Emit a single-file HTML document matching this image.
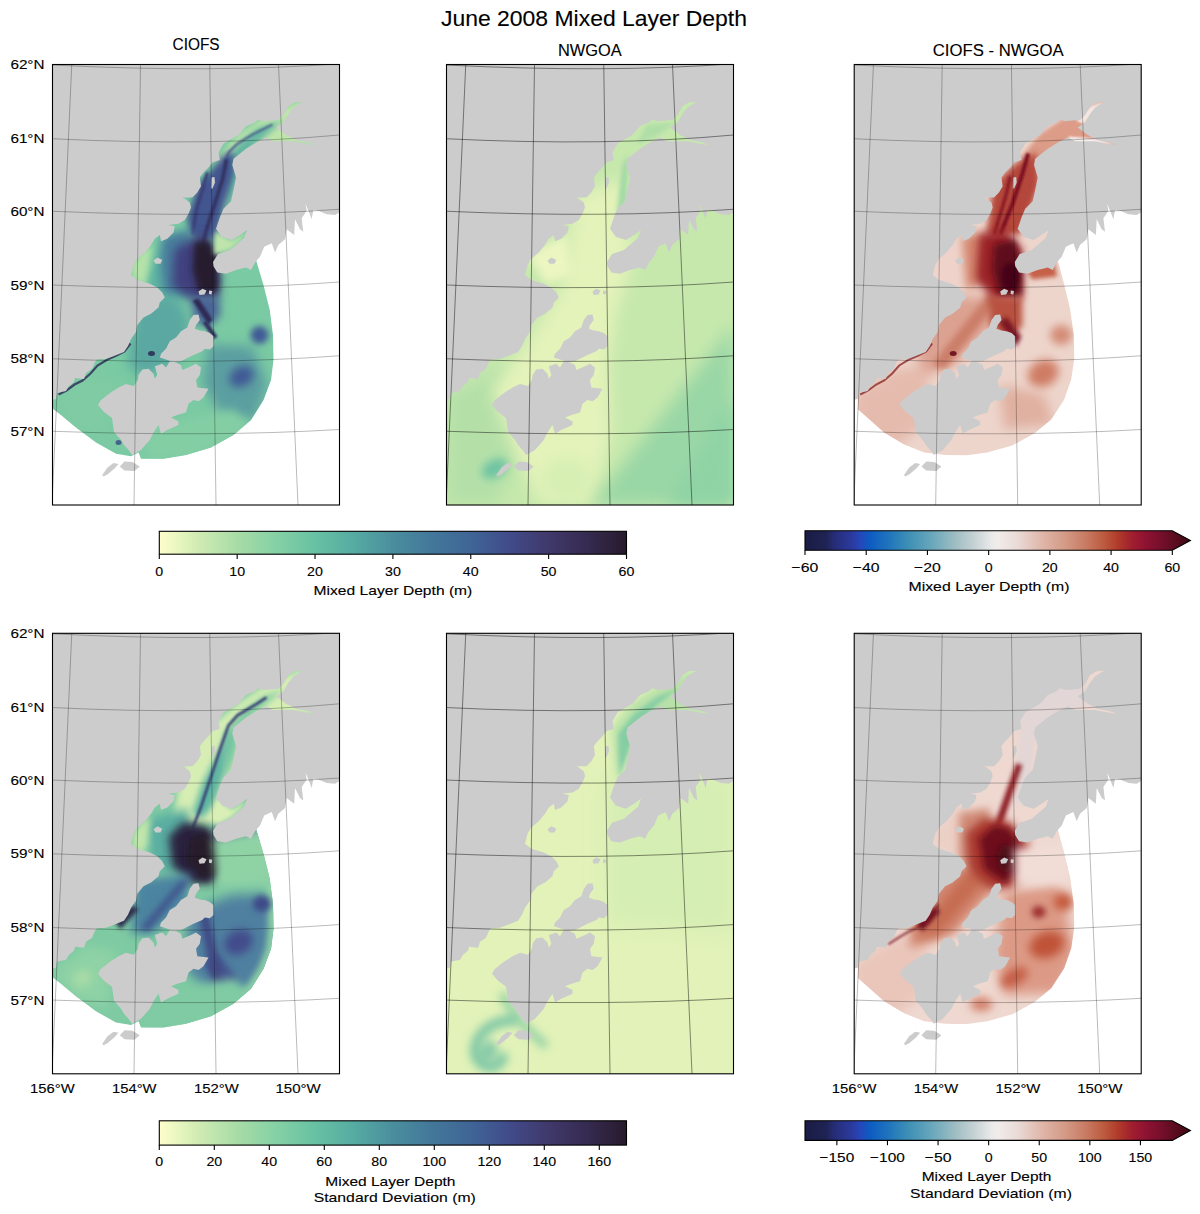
<!DOCTYPE html><html><head><meta charset="utf-8"><style>html,body{margin:0;padding:0;background:#fff;}svg{display:block;}</style></head><body><svg width="1200" height="1214" viewBox="0 0 1200 1214"><defs><clipPath id="clip"><rect x="0" y="0" width="287.0" height="440.5"/></clipPath><clipPath id="dom"><path d="M-1.00,-1.00 L288.00,-1.00 L288.00,100.00 L215.00,150.00 L203.50,195.50 L211.00,220.50 L217.25,245.50 L220.50,270.50 L221.00,295.50 L218.50,315.50 L211.00,335.50 L198.50,355.50 L181.00,370.50 L158.50,383.00 L133.50,390.50 L111.00,394.25 L88.50,394.25 L86.00,388.00 L78.50,391.75 L63.50,389.25 L43.50,378.00 L23.50,363.00 L8.50,350.50 L-1.00,343.00Z"/></clipPath><clipPath id="dom3"><path d="M-1.00,-1.00 L288.00,-1.00 L288.00,100.00 L215.00,150.00 L203.50,195.50 L210.00,220.00 L216.00,245.00 L219.50,270.00 L220.00,295.00 L217.00,315.00 L210.00,335.00 L197.00,355.00 L180.00,369.00 L158.00,381.00 L133.00,388.00 L111.00,391.00 L91.00,390.50 L70.00,388.00 L50.00,380.00 L30.00,368.00 L12.00,352.00 L4.00,345.00 L3.60,330.00 L-1.00,330.00Z"/></clipPath><filter id="b1" filterUnits="userSpaceOnUse" x="-60" y="-60" width="410" height="560"><feGaussianBlur stdDeviation="1"/></filter><filter id="b2" filterUnits="userSpaceOnUse" x="-60" y="-60" width="410" height="560"><feGaussianBlur stdDeviation="2"/></filter><filter id="b3" filterUnits="userSpaceOnUse" x="-60" y="-60" width="410" height="560"><feGaussianBlur stdDeviation="3"/></filter><filter id="b4" filterUnits="userSpaceOnUse" x="-60" y="-60" width="410" height="560"><feGaussianBlur stdDeviation="4"/></filter><filter id="b5" filterUnits="userSpaceOnUse" x="-60" y="-60" width="410" height="560"><feGaussianBlur stdDeviation="5"/></filter><filter id="b6" filterUnits="userSpaceOnUse" x="-60" y="-60" width="410" height="560"><feGaussianBlur stdDeviation="6"/></filter><filter id="b7" filterUnits="userSpaceOnUse" x="-60" y="-60" width="410" height="560"><feGaussianBlur stdDeviation="7"/></filter><filter id="b8" filterUnits="userSpaceOnUse" x="-60" y="-60" width="410" height="560"><feGaussianBlur stdDeviation="8"/></filter><filter id="b9" filterUnits="userSpaceOnUse" x="-60" y="-60" width="410" height="560"><feGaussianBlur stdDeviation="9"/></filter><filter id="b10" filterUnits="userSpaceOnUse" x="-60" y="-60" width="410" height="560"><feGaussianBlur stdDeviation="10"/></filter><filter id="b11" filterUnits="userSpaceOnUse" x="-60" y="-60" width="410" height="560"><feGaussianBlur stdDeviation="11"/></filter><filter id="b12" filterUnits="userSpaceOnUse" x="-60" y="-60" width="410" height="560"><feGaussianBlur stdDeviation="12"/></filter><filter id="b13" filterUnits="userSpaceOnUse" x="-60" y="-60" width="410" height="560"><feGaussianBlur stdDeviation="13"/></filter><filter id="b14" filterUnits="userSpaceOnUse" x="-60" y="-60" width="410" height="560"><feGaussianBlur stdDeviation="14"/></filter><filter id="b15" filterUnits="userSpaceOnUse" x="-60" y="-60" width="410" height="560"><feGaussianBlur stdDeviation="15"/></filter><linearGradient id="gdeep" x1="0" y1="0" x2="1" y2="0"><stop offset="0.0" stop-color="#fdfecc"/><stop offset="0.04" stop-color="#e9f6c0"/><stop offset="0.08" stop-color="#d2ecb4"/><stop offset="0.17" stop-color="#a6dba6"/><stop offset="0.25" stop-color="#85d1a5"/><stop offset="0.33" stop-color="#68c2a3"/><stop offset="0.42" stop-color="#55aaa2"/><stop offset="0.5" stop-color="#4a8e9e"/><stop offset="0.58" stop-color="#43789a"/><stop offset="0.67" stop-color="#3f6496"/><stop offset="0.75" stop-color="#414b8a"/><stop offset="0.83" stop-color="#40396c"/><stop offset="0.92" stop-color="#352a4f"/><stop offset="1.0" stop-color="#281a2c"/></linearGradient><linearGradient id="gbal" x1="0" y1="0" x2="1" y2="0"><stop offset="0.0" stop-color="#1a1c45"/><stop offset="0.054" stop-color="#1f2352"/><stop offset="0.077" stop-color="#262d78"/><stop offset="0.122" stop-color="#2b3a9e"/><stop offset="0.14" stop-color="#2844b8"/><stop offset="0.168" stop-color="#0c5cc2"/><stop offset="0.222" stop-color="#2277bb"/><stop offset="0.267" stop-color="#3d8fb5"/><stop offset="0.331" stop-color="#6aa8bc"/><stop offset="0.386" stop-color="#9bbcc2"/><stop offset="0.44" stop-color="#c7d2d5"/><stop offset="0.485" stop-color="#eaeaea"/><stop offset="0.5" stop-color="#f1ecea"/><stop offset="0.549" stop-color="#eadcd8"/><stop offset="0.617" stop-color="#dfb5a8"/><stop offset="0.675" stop-color="#d39a86"/><stop offset="0.73" stop-color="#c87a62"/><stop offset="0.776" stop-color="#bc5a3e"/><stop offset="0.812" stop-color="#b03b2a"/><stop offset="0.849" stop-color="#a01e2e"/><stop offset="0.885" stop-color="#8e1232"/><stop offset="0.935" stop-color="#6e0e28"/><stop offset="1.0" stop-color="#3c0912"/></linearGradient></defs><rect x="0" y="0" width="1200" height="1214" fill="#fff"/><g font-family="Liberation Sans, sans-serif" fill="#000" stroke="#000" stroke-width="0.12"><text x="441.00" y="26.20" font-size="22.5" textLength="306.00" lengthAdjust="spacingAndGlyphs">June 2008 Mixed Layer Depth</text><text x="172.50" y="50.00" font-size="17.4" textLength="47.10" lengthAdjust="spacingAndGlyphs">CIOFS</text><text x="557.90" y="55.80" font-size="17.4" textLength="63.80" lengthAdjust="spacingAndGlyphs">NWGOA</text><text x="932.70" y="55.60" font-size="17.4" textLength="131.00" lengthAdjust="spacingAndGlyphs">CIOFS - NWGOA</text><text x="10.40" y="69.20" font-size="13.6" textLength="34.10" lengthAdjust="spacingAndGlyphs">62°N</text><text x="10.40" y="143.20" font-size="13.6" textLength="34.10" lengthAdjust="spacingAndGlyphs">61°N</text><text x="10.40" y="216.20" font-size="13.6" textLength="34.10" lengthAdjust="spacingAndGlyphs">60°N</text><text x="10.40" y="289.60" font-size="13.6" textLength="34.10" lengthAdjust="spacingAndGlyphs">59°N</text><text x="10.40" y="362.90" font-size="13.6" textLength="34.10" lengthAdjust="spacingAndGlyphs">58°N</text><text x="10.40" y="436.00" font-size="13.6" textLength="34.10" lengthAdjust="spacingAndGlyphs">57°N</text><text x="10.40" y="638.00" font-size="13.6" textLength="34.10" lengthAdjust="spacingAndGlyphs">62°N</text><text x="10.40" y="712.00" font-size="13.6" textLength="34.10" lengthAdjust="spacingAndGlyphs">61°N</text><text x="10.40" y="785.00" font-size="13.6" textLength="34.10" lengthAdjust="spacingAndGlyphs">60°N</text><text x="10.40" y="858.40" font-size="13.6" textLength="34.10" lengthAdjust="spacingAndGlyphs">59°N</text><text x="10.40" y="931.70" font-size="13.6" textLength="34.10" lengthAdjust="spacingAndGlyphs">58°N</text><text x="10.40" y="1004.80" font-size="13.6" textLength="34.10" lengthAdjust="spacingAndGlyphs">57°N</text><text x="30.10" y="1093.30" font-size="13.6" textLength="44.60" lengthAdjust="spacingAndGlyphs">156°W</text><text x="112.00" y="1093.30" font-size="13.6" textLength="44.50" lengthAdjust="spacingAndGlyphs">154°W</text><text x="193.90" y="1093.30" font-size="13.6" textLength="44.80" lengthAdjust="spacingAndGlyphs">152°W</text><text x="275.50" y="1093.30" font-size="13.6" textLength="45.30" lengthAdjust="spacingAndGlyphs">150°W</text><text x="831.80" y="1093.30" font-size="13.6" textLength="44.60" lengthAdjust="spacingAndGlyphs">156°W</text><text x="913.70" y="1093.30" font-size="13.6" textLength="44.50" lengthAdjust="spacingAndGlyphs">154°W</text><text x="995.60" y="1093.30" font-size="13.6" textLength="44.80" lengthAdjust="spacingAndGlyphs">152°W</text><text x="1077.20" y="1093.30" font-size="13.6" textLength="45.30" lengthAdjust="spacingAndGlyphs">150°W</text></g><g transform="translate(52.5,64.5)"><g clip-path="url(#clip)"><rect x="0" y="0" width="287.0" height="440.5" fill="#fff"/><g clip-path="url(#dom)"><rect x="-10" y="-10" width="307.0" height="460.5" fill="#7acaa3"/><path d="M165.00,95.00 L185.00,70.00 L215.00,50.00 L250.00,35.00 L265.00,82.00 L230.00,80.00 L195.00,92.00 L180.00,120.00 L170.00,150.00Z" fill="#c0e5ab" fill-opacity="1.0" filter="url(#b3)"/><path d="M170.00,105.00 L185.00,80.00 L205.00,64.00 L232.00,55.00 L212.00,72.00 L192.00,92.00 L182.00,125.00 L174.00,150.00Z" fill="#62b5a2" fill-opacity="1.0" filter="url(#b3)"/><path d="M172,100 L176,88 L184,80 L200,70 L220,60" fill="none" stroke="#3e4a86" stroke-width="1.8" filter="url(#b1)"/><path d="M145.20,119.80 L156.10,108.90 L170.70,90.80 L181.60,87.10 L181.60,108.90 L170.70,145.20 L163.40,174.30 L138.00,174.30 L134.30,152.50Z" fill="#42558f" fill-opacity="1.0" filter="url(#b3)"/><path d="M174,95 L170,115 L162,140 L154,165 L150,180" fill="none" stroke="#33305f" stroke-width="3.5" filter="url(#b1)"/><path d="M155,108 L150,125 L144,145 L140,170" fill="none" stroke="#3a3d74" stroke-width="3" filter="url(#b1)"/><path d="M112.00,172.00 L138.00,168.00 L140.00,215.00 L130.00,235.00 L100.00,235.00 L95.00,215.00Z" fill="#5cb2a2" fill-opacity="1.0" filter="url(#b5)"/><path d="M78.00,200.00 L90.00,186.00 L100.00,180.00 L96.00,205.00 L92.00,222.00 L80.00,215.00Z" fill="#b5e2a9" fill-opacity="1.0" filter="url(#b3)"/><path d="M110.00,172.00 L138.00,165.00 L140.00,200.00 L138.00,232.00 L112.00,230.00 L108.00,200.00Z" fill="#4a7d9c" fill-opacity="1.0" filter="url(#b5)"/><path d="M122.00,185.00 L150.00,168.00 L165.00,185.00 L168.00,218.00 L166.00,234.00 L140.00,236.00 L120.00,222.00Z" fill="#3f3f7e" fill-opacity="1.0" filter="url(#b5)"/><path d="M142.00,178.00 L155.00,175.00 L164.00,190.00 L166.00,220.00 L162.00,230.00 L146.00,228.00 L140.00,205.00Z" fill="#281a2e" fill-opacity="1.0" filter="url(#b3)"/><path d="M138.00,232.00 L166.00,232.00 L168.00,250.00 L158.00,262.00 L142.00,258.00Z" fill="#4a6296" fill-opacity="1.0" filter="url(#b4)"/><path d="M140.00,236.00 L146.00,234.00 L160.00,255.00 L156.00,260.00Z" fill="#2f2a55" fill-opacity="1.0" filter="url(#b1)"/><path d="M150.00,258.00 L154.00,256.00 L165.00,272.00 L161.00,275.00Z" fill="#33305e" fill-opacity="1.0" filter="url(#b1)"/><path d="M163.00,166.00 L172.00,173.00 L180.00,176.00 L188.00,171.00 L194.00,166.00 L190.00,174.00 L178.00,185.00 L166.00,189.00 L161.00,190.00Z" fill="#bfe4ab" fill-opacity="1.0" filter="url(#b2)"/><path d="M87.00,232.00 L125.00,232.00 L138.00,260.00 L125.00,300.00 L90.00,312.00 L75.00,300.00 L80.00,265.00Z" fill="#5aa8a1" fill-opacity="1.0" filter="url(#b6)"/><path d="M156.00,280.00 L200.00,282.00 L215.00,320.00 L203.00,356.00 L170.00,352.00 L150.00,320.00Z" fill="#5c9fa1" fill-opacity="1.0" filter="url(#b6)"/><ellipse cx="207" cy="270.5" rx="9" ry="9" fill="#3f5a95" fill-opacity="1.0" transform="rotate(0 207 270.5)" filter="url(#b3)"/><ellipse cx="189" cy="312" rx="13" ry="10" fill="#3f5796" fill-opacity="0.95" transform="rotate(-30 189 312)" filter="url(#b4)"/><path d="M0.00,338.00 L35.00,312.00 L65.00,318.00 L55.00,372.00 L20.00,362.00Z" fill="#80cba3" fill-opacity="1.0" filter="url(#b6)"/><path d="M90.00,365.00 L180.00,345.00 L200.00,362.00 L150.00,390.00 L95.00,396.00Z" fill="#84cea4" fill-opacity="1.0" filter="url(#b5)"/><path d="M6,330 L14,326 L22,320 L30,316 L38,309 L45,301 L55,295 L64,291 L72,287 L78,279" fill="none" stroke="#303058" stroke-width="2.2" stroke-opacity="0.85"/><ellipse cx="99" cy="289" rx="3.5" ry="2.5" fill="#2e2f55" fill-opacity="0.9" transform="rotate(0 99 289)"/><ellipse cx="66" cy="378" rx="3" ry="2.5" fill="#3a4a85" fill-opacity="0.8" transform="rotate(0 66 378)"/></g><path d="M-1.00,-1.00 L288.00,-1.00 L288.00,147.20 L282.50,150.50 L274.20,149.70 L265.80,146.30 L260.80,145.50 L259.20,154.70 L256.00,146.50 L253.00,139.50 L254.20,146.30 L249.20,153.80 L250.80,167.20 L247.50,164.70 L242.50,154.70 L241.70,170.50 L234.20,164.70 L232.50,174.70 L225.80,180.50 L222.50,188.00 L219.20,178.80 L211.70,182.20 L207.50,192.20 L202.50,198.00 L198.50,205.50 L193.50,203.00 L183.50,205.50 L173.50,209.30 L164.80,208.00 L161.00,201.80 L160.50,197.50 L165.50,189.50 L177.50,185.50 L191.50,173.50 L194.50,165.50 L187.50,170.50 L179.50,175.50 L169.50,172.50 L163.50,164.30 L167.30,153.00 L171.00,144.30 L178.50,136.80 L181.00,125.50 L183.50,113.00 L179.80,100.50 L181.00,94.30 L193.50,84.30 L203.50,78.00 L213.50,73.00 L221.00,76.80 L241.00,76.80 L253.50,79.30 L262.30,80.50 L256.00,78.00 L243.50,75.50 L233.50,70.50 L223.50,63.00 L231.00,58.00 L236.00,49.30 L241.00,43.00 L249.80,37.40 L242.30,38.00 L236.00,41.80 L231.00,50.50 L226.00,55.50 L218.50,56.10 L211.00,56.80 L206.00,54.90 L202.30,58.00 L193.50,61.80 L186.00,70.50 L177.30,75.50 L171.00,79.30 L166.00,88.00 L167.30,95.50 L159.80,98.00 L156.00,103.00 L151.00,108.00 L147.30,113.00 L148.50,121.80 L144.80,128.00 L139.80,133.00 L129.80,133.00 L123.50,129.30 L132.30,134.30 L137.30,138.00 L138.50,143.00 L136.00,149.30 L132.30,155.50 L126.00,159.30 L116.00,160.50 L122.30,161.80 L121.00,168.00 L114.80,174.30 L108.50,176.80 L107.30,170.50 L102.30,174.30 L98.50,180.50 L92.30,188.00 L84.80,194.30 L81.00,200.50 L78.50,210.50 L84.80,215.50 L97.30,219.30 L104.80,223.00 L109.80,228.00 L112.30,233.00 L107.30,238.00 L106.00,243.00 L98.50,249.30 L91.00,253.00 L84.80,260.50 L83.50,267.50 L78.50,274.50 L75.50,281.50 L71.50,287.50 L61.50,291.50 L53.50,294.50 L44.50,295.00 L42.50,297.50 L39.50,304.50 L33.50,308.50 L31.50,314.50 L22.50,313.50 L21.50,317.50 L16.50,321.50 L13.50,326.50 L4.50,328.50 L3.50,334.50 L-1.00,335.50 L-1.00,335.50Z" fill="#cccccc"/><path d="M146.00,249.90 L147.30,255.50 L143.50,260.50 L142.30,264.30 L147.30,266.10 L152.30,266.80 L157.30,268.60 L161.00,271.80 L161.00,281.80 L157.30,284.90 L152.30,284.30 L149.80,286.80 L141.00,290.50 L133.50,294.30 L128.50,296.80 L121.00,297.40 L113.50,294.90 L107.30,293.00 L108.50,289.30 L113.50,284.30 L117.30,276.80 L123.50,273.00 L128.50,266.80 L134.80,263.00 L137.30,255.50 L141.00,250.50Z" fill="#cccccc"/><path d="M86.00,310.50 L89.80,304.90 L96.00,304.30 L101.00,309.30 L102.30,314.30 L104.80,310.50 L102.30,301.80 L109.80,299.30 L113.50,303.00 L117.30,296.80 L123.50,298.00 L128.50,300.50 L129.80,305.50 L138.50,301.80 L143.50,299.30 L148.50,303.00 L147.30,310.50 L143.50,315.50 L144.80,323.00 L156.00,324.30 L151.00,333.00 L146.00,336.80 L141.00,335.50 L136.00,339.30 L133.50,348.00 L124.80,350.50 L118.50,353.00 L126.00,356.80 L126.00,360.50 L114.80,365.50 L108.50,369.30 L106.00,360.50 L101.00,368.00 L97.30,375.50 L88.50,385.50 L79.75,390.50 L76.00,385.50 L71.50,380.50 L68.50,375.50 L61.50,367.50 L59.50,353.50 L51.50,347.50 L45.50,340.50 L48.00,336.00 L57.50,328.50 L66.00,323.00 L73.50,319.50 L81.50,321.50 L85.50,315.00Z" fill="#cccccc"/><path d="M49.75,410.50 L55.00,403.00 L61.00,398.50 L66.00,399.50 L62.00,404.00 L55.00,410.00 L51.00,412.00Z" fill="#cccccc"/><path d="M67.25,402.00 L72.00,397.00 L80.00,397.50 L87.25,402.00 L82.00,406.50 L72.00,406.00Z" fill="#cccccc"/><path d="M159.00,113.00 L162.00,112.50 L162.50,118.00 L160.00,124.00 L158.50,124.00Z" fill="#cccccc"/><path d="M101.00,196.00 L105.00,193.00 L109.80,195.50 L108.00,199.30 L103.00,199.30Z" fill="#cccccc"/><path d="M146.00,227.00 L150.00,224.30 L154.00,226.00 L152.00,230.00 L147.00,230.50Z" fill="#cccccc"/><path d="M156.50,226.00 L159.80,226.50 L159.00,230.00 L156.50,229.50Z" fill="#cccccc"/><g stroke="#000" stroke-opacity="0.3" stroke-width="0.9" fill="none"><line x1="19.25" y1="0" x2="-0.5" y2="440.5"/><line x1="88" y1="0" x2="81.5" y2="440.5"/><line x1="157.25" y1="0" x2="163.5" y2="440.5"/><line x1="226" y1="0" x2="245.5" y2="440.5"/><path d="M0,0.5 Q160,8.62 287.0,-0.75" fill="none"/><path d="M0,74.25 Q160,82.12 287.0,70.5" fill="none"/><path d="M0,146.75 Q160,153.75 287.0,144.75" fill="none"/><path d="M0,220.5 Q160,227.00 287.0,217.5" fill="none"/><path d="M0,294.25 Q160,300.75 287.0,291.25" fill="none"/><path d="M0,366.75 Q160,372.62 287.0,365" fill="none"/></g></g><rect x="0" y="0" width="287.0" height="440.5" fill="none" stroke="#000" stroke-width="1.1"/></g><g transform="translate(446.5,64.5)"><g clip-path="url(#clip)"><rect x="-10" y="-10" width="307.0" height="460.5" fill="#c6e8ad"/><path d="M0.00,330.00 L60.00,300.00 L80.00,380.00 L50.00,440.00 L0.00,440.00Z" fill="#b4e0a8" fill-opacity="1.0" filter="url(#b8)"/><path d="M130.00,130.00 L178.00,115.00 L185.00,200.00 L170.00,245.00 L162.00,300.00 L165.00,370.00 L145.00,440.00 L95.00,440.00 L65.00,380.00 L45.00,325.00 L80.00,280.00 L115.00,225.00Z" fill="#e4f3ba" fill-opacity="1.0" filter="url(#b8)"/><ellipse cx="120" cy="415" rx="25" ry="22" fill="#d3edb2" fill-opacity="0.8" transform="rotate(0 120 415)" filter="url(#b8)"/><path d="M145.00,440.00 L287.00,260.00 L287.00,440.00Z" fill="#9ad7a6" fill-opacity="1.0" filter="url(#b8)"/><path d="M220.00,440.00 L287.00,330.00 L287.00,440.00Z" fill="#8fd3a5" fill-opacity="1.0" filter="url(#b8)"/><ellipse cx="48" cy="404" rx="14" ry="9" fill="#6fc4a3" fill-opacity="1" transform="rotate(-30 48 404)" filter="url(#b4)"/><path d="M176.00,100.00 L182.00,90.00 L180.00,140.00 L170.00,150.00Z" fill="#a3d9a6" fill-opacity="1.0" filter="url(#b2)"/><path d="M200.00,60.00 L230.00,58.00 L210.00,72.00 L190.00,80.00Z" fill="#b0dea7" fill-opacity="1.0" filter="url(#b2)"/><path d="M80.00,190.00 L120.00,170.00 L125.00,210.00 L100.00,220.00Z" fill="#ecf6c1" fill-opacity="1.0" filter="url(#b4)"/><path d="M-1.00,-1.00 L288.00,-1.00 L288.00,147.20 L282.50,150.50 L274.20,149.70 L265.80,146.30 L260.80,145.50 L259.20,154.70 L256.00,146.50 L253.00,139.50 L254.20,146.30 L249.20,153.80 L250.80,167.20 L247.50,164.70 L242.50,154.70 L241.70,170.50 L234.20,164.70 L232.50,174.70 L225.80,180.50 L222.50,188.00 L219.20,178.80 L211.70,182.20 L207.50,192.20 L202.50,198.00 L198.50,205.50 L193.50,203.00 L183.50,205.50 L173.50,209.30 L164.80,208.00 L161.00,201.80 L160.50,197.50 L165.50,189.50 L177.50,185.50 L191.50,173.50 L194.50,165.50 L187.50,170.50 L179.50,175.50 L169.50,172.50 L163.50,164.30 L167.30,153.00 L171.00,144.30 L178.50,136.80 L181.00,125.50 L183.50,113.00 L179.80,100.50 L181.00,94.30 L193.50,84.30 L203.50,78.00 L213.50,73.00 L221.00,76.80 L241.00,76.80 L253.50,79.30 L262.30,80.50 L256.00,78.00 L243.50,75.50 L233.50,70.50 L223.50,63.00 L231.00,58.00 L236.00,49.30 L241.00,43.00 L249.80,37.40 L242.30,38.00 L236.00,41.80 L231.00,50.50 L226.00,55.50 L218.50,56.10 L211.00,56.80 L206.00,54.90 L202.30,58.00 L193.50,61.80 L186.00,70.50 L177.30,75.50 L171.00,79.30 L166.00,88.00 L167.30,95.50 L159.80,98.00 L156.00,103.00 L151.00,108.00 L147.30,113.00 L148.50,121.80 L144.80,128.00 L139.80,133.00 L129.80,133.00 L123.50,129.30 L132.30,134.30 L137.30,138.00 L138.50,143.00 L136.00,149.30 L132.30,155.50 L126.00,159.30 L116.00,160.50 L122.30,161.80 L121.00,168.00 L114.80,174.30 L108.50,176.80 L107.30,170.50 L102.30,174.30 L98.50,180.50 L92.30,188.00 L84.80,194.30 L81.00,200.50 L78.50,210.50 L84.80,215.50 L97.30,219.30 L104.80,223.00 L109.80,228.00 L112.30,233.00 L107.30,238.00 L106.00,243.00 L98.50,249.30 L91.00,253.00 L84.80,260.50 L83.50,267.50 L78.50,274.50 L75.50,281.50 L71.50,287.50 L61.50,291.50 L53.50,294.50 L44.50,295.00 L42.50,297.50 L39.50,304.50 L33.50,308.50 L31.50,314.50 L22.50,313.50 L21.50,317.50 L16.50,321.50 L13.50,326.50 L4.50,328.50 L3.50,334.50 L-1.00,335.50 L-1.00,335.50Z" fill="#cccccc"/><path d="M146.00,249.90 L147.30,255.50 L143.50,260.50 L142.30,264.30 L147.30,266.10 L152.30,266.80 L157.30,268.60 L161.00,271.80 L161.00,281.80 L157.30,284.90 L152.30,284.30 L149.80,286.80 L141.00,290.50 L133.50,294.30 L128.50,296.80 L121.00,297.40 L113.50,294.90 L107.30,293.00 L108.50,289.30 L113.50,284.30 L117.30,276.80 L123.50,273.00 L128.50,266.80 L134.80,263.00 L137.30,255.50 L141.00,250.50Z" fill="#cccccc"/><path d="M86.00,310.50 L89.80,304.90 L96.00,304.30 L101.00,309.30 L102.30,314.30 L104.80,310.50 L102.30,301.80 L109.80,299.30 L113.50,303.00 L117.30,296.80 L123.50,298.00 L128.50,300.50 L129.80,305.50 L138.50,301.80 L143.50,299.30 L148.50,303.00 L147.30,310.50 L143.50,315.50 L144.80,323.00 L156.00,324.30 L151.00,333.00 L146.00,336.80 L141.00,335.50 L136.00,339.30 L133.50,348.00 L124.80,350.50 L118.50,353.00 L126.00,356.80 L126.00,360.50 L114.80,365.50 L108.50,369.30 L106.00,360.50 L101.00,368.00 L97.30,375.50 L88.50,385.50 L79.75,390.50 L76.00,385.50 L71.50,380.50 L68.50,375.50 L61.50,367.50 L59.50,353.50 L51.50,347.50 L45.50,340.50 L48.00,336.00 L57.50,328.50 L66.00,323.00 L73.50,319.50 L81.50,321.50 L85.50,315.00Z" fill="#cccccc"/><path d="M49.75,410.50 L55.00,403.00 L61.00,398.50 L66.00,399.50 L62.00,404.00 L55.00,410.00 L51.00,412.00Z" fill="#cccccc"/><path d="M67.25,402.00 L72.00,397.00 L80.00,397.50 L87.25,402.00 L82.00,406.50 L72.00,406.00Z" fill="#cccccc"/><path d="M159.00,113.00 L162.00,112.50 L162.50,118.00 L160.00,124.00 L158.50,124.00Z" fill="#cccccc"/><path d="M101.00,196.00 L105.00,193.00 L109.80,195.50 L108.00,199.30 L103.00,199.30Z" fill="#cccccc"/><path d="M146.00,227.00 L150.00,224.30 L154.00,226.00 L152.00,230.00 L147.00,230.50Z" fill="#cccccc"/><path d="M156.50,226.00 L159.80,226.50 L159.00,230.00 L156.50,229.50Z" fill="#cccccc"/><g stroke="#000" stroke-opacity="0.5" stroke-width="0.9" fill="none"><line x1="19.25" y1="0" x2="-0.5" y2="440.5"/><line x1="88" y1="0" x2="81.5" y2="440.5"/><line x1="157.25" y1="0" x2="163.5" y2="440.5"/><line x1="226" y1="0" x2="245.5" y2="440.5"/><path d="M0,0.5 Q160,8.62 287.0,-0.75" fill="none"/><path d="M0,74.25 Q160,82.12 287.0,70.5" fill="none"/><path d="M0,146.75 Q160,153.75 287.0,144.75" fill="none"/><path d="M0,220.5 Q160,227.00 287.0,217.5" fill="none"/><path d="M0,294.25 Q160,300.75 287.0,291.25" fill="none"/><path d="M0,366.75 Q160,372.62 287.0,365" fill="none"/></g></g><rect x="0" y="0" width="287.0" height="440.5" fill="none" stroke="#000" stroke-width="1.1"/></g><g transform="translate(854.2,64.5)"><g clip-path="url(#clip)"><rect x="0" y="0" width="287.0" height="440.5" fill="#fff"/><g clip-path="url(#dom3)"><rect x="-10" y="-10" width="307.0" height="460.5" fill="#edd5cc"/><path d="M0.00,330.00 L40.00,305.00 L75.00,300.00 L70.00,360.00 L40.00,385.00 L0.00,370.00Z" fill="#e5bbad" fill-opacity="1.0" filter="url(#b6)"/><path d="M73.00,232.00 L138.00,232.00 L140.00,260.00 L100.00,301.00 L70.00,310.00 L60.00,285.00Z" fill="#dca291" fill-opacity="1.0" filter="url(#b6)"/><path d="M135.00,228.00 L145.00,236.00 L90.00,305.00 L78.00,300.00Z" fill="#cb7d67" fill-opacity="1.0" filter="url(#b3)"/><path d="M165.00,95.00 L185.00,70.00 L215.00,50.00 L250.00,35.00 L265.00,82.00 L230.00,80.00 L195.00,92.00 L180.00,120.00 L170.00,150.00Z" fill="#dc9c88" fill-opacity="1.0" filter="url(#b2)"/><path d="M222.00,56.00 L236.00,42.00 L250.00,37.00 L238.00,50.00 L230.00,60.00Z" fill="#f4e6e2" fill-opacity="1.0" filter="url(#b1)"/><path d="M214.00,72.00 L240.00,74.00 L262.00,80.00 L240.00,80.00 L216.00,78.00Z" fill="#f7eeee" fill-opacity="1.0" filter="url(#b1)"/><path d="M139.00,120.00 L160.00,100.00 L182.00,88.00 L185.00,120.00 L175.00,150.00 L166.00,170.00 L132.00,172.00Z" fill="#b4473a" fill-opacity="1.0" filter="url(#b3)"/><path d="M174,89 L168,110 L158,140 L146,170" fill="none" stroke="#7a1020" stroke-width="4" filter="url(#b1)"/><path d="M156,112 L152,130 L146,150 L140,170" fill="none" stroke="#8a1a26" stroke-width="3.5" filter="url(#b1)"/><path d="M80.00,180.00 L105.00,172.00 L108.00,225.00 L85.00,225.00Z" fill="#efd3ca" fill-opacity="1.0" filter="url(#b4)"/><path d="M108.00,172.00 L132.00,168.00 L138.00,215.00 L112.00,225.00Z" fill="#d4876f" fill-opacity="1.0" filter="url(#b4)"/><path d="M125.00,170.00 L150.00,165.00 L168.00,185.00 L168.00,232.00 L140.00,236.00 L122.00,215.00Z" fill="#9a2228" fill-opacity="1.0" filter="url(#b4)"/><path d="M140.00,180.00 L160.00,175.00 L168.00,200.00 L167.00,232.00 L145.00,232.00 L138.00,205.00Z" fill="#5e0a1a" fill-opacity="1.0" filter="url(#b3)"/><ellipse cx="156" cy="212" rx="9" ry="14" fill="#430716" fill-opacity="0.9" transform="rotate(0 156 212)" filter="url(#b2)"/><path d="M135.00,232.00 L168.00,232.00 L168.00,262.00 L150.00,276.00 L135.00,260.00Z" fill="#b85140" fill-opacity="1.0" filter="url(#b3)"/><path d="M145.00,258.00 L152.00,252.00 L167.00,272.00 L162.00,282.00Z" fill="#7a1522" fill-opacity="1.0" filter="url(#b2)"/><path d="M170.00,203.00 L200.00,198.00 L203.00,212.00 L178.00,215.00Z" fill="#c6614a" fill-opacity="1.0" filter="url(#b2)"/><ellipse cx="207" cy="270.5" rx="11" ry="10" fill="#d48c76" fill-opacity="1.0" transform="rotate(0 207 270.5)" filter="url(#b4)"/><ellipse cx="189" cy="309" rx="16" ry="13" fill="#cf7b63" fill-opacity="1" transform="rotate(-30 189 309)" filter="url(#b5)"/><path d="M145.00,320.00 L190.00,330.00 L200.00,360.00 L150.00,365.00Z" fill="#e0b0a0" fill-opacity="1.0" filter="url(#b6)"/><path d="M6,330 L14,326 L22,320 L30,316 L38,309 L45,301 L55,295 L64,291 L72,287 L78,279" fill="none" stroke="#8a2a2a" stroke-width="2" stroke-opacity="0.8"/><ellipse cx="99" cy="289" rx="3.5" ry="2.5" fill="#6a0e1e" fill-opacity="0.9" transform="rotate(0 99 289)"/></g><path d="M-1.00,-1.00 L288.00,-1.00 L288.00,147.20 L282.50,150.50 L274.20,149.70 L265.80,146.30 L260.80,145.50 L259.20,154.70 L256.00,146.50 L253.00,139.50 L254.20,146.30 L249.20,153.80 L250.80,167.20 L247.50,164.70 L242.50,154.70 L241.70,170.50 L234.20,164.70 L232.50,174.70 L225.80,180.50 L222.50,188.00 L219.20,178.80 L211.70,182.20 L207.50,192.20 L202.50,198.00 L198.50,205.50 L193.50,203.00 L183.50,205.50 L173.50,209.30 L164.80,208.00 L161.00,201.80 L160.50,197.50 L165.50,189.50 L177.50,185.50 L191.50,173.50 L194.50,165.50 L187.50,170.50 L179.50,175.50 L169.50,172.50 L163.50,164.30 L167.30,153.00 L171.00,144.30 L178.50,136.80 L181.00,125.50 L183.50,113.00 L179.80,100.50 L181.00,94.30 L193.50,84.30 L203.50,78.00 L213.50,73.00 L221.00,76.80 L241.00,76.80 L253.50,79.30 L262.30,80.50 L256.00,78.00 L243.50,75.50 L233.50,70.50 L223.50,63.00 L231.00,58.00 L236.00,49.30 L241.00,43.00 L249.80,37.40 L242.30,38.00 L236.00,41.80 L231.00,50.50 L226.00,55.50 L218.50,56.10 L211.00,56.80 L206.00,54.90 L202.30,58.00 L193.50,61.80 L186.00,70.50 L177.30,75.50 L171.00,79.30 L166.00,88.00 L167.30,95.50 L159.80,98.00 L156.00,103.00 L151.00,108.00 L147.30,113.00 L148.50,121.80 L144.80,128.00 L139.80,133.00 L129.80,133.00 L123.50,129.30 L132.30,134.30 L137.30,138.00 L138.50,143.00 L136.00,149.30 L132.30,155.50 L126.00,159.30 L116.00,160.50 L122.30,161.80 L121.00,168.00 L114.80,174.30 L108.50,176.80 L107.30,170.50 L102.30,174.30 L98.50,180.50 L92.30,188.00 L84.80,194.30 L81.00,200.50 L78.50,210.50 L84.80,215.50 L97.30,219.30 L104.80,223.00 L109.80,228.00 L112.30,233.00 L107.30,238.00 L106.00,243.00 L98.50,249.30 L91.00,253.00 L84.80,260.50 L83.50,267.50 L78.50,274.50 L75.50,281.50 L71.50,287.50 L61.50,291.50 L53.50,294.50 L44.50,295.00 L42.50,297.50 L39.50,304.50 L33.50,308.50 L31.50,314.50 L22.50,313.50 L21.50,317.50 L16.50,321.50 L13.50,326.50 L4.50,328.50 L3.50,334.50 L-1.00,335.50 L-1.00,335.50Z" fill="#cccccc"/><path d="M146.00,249.90 L147.30,255.50 L143.50,260.50 L142.30,264.30 L147.30,266.10 L152.30,266.80 L157.30,268.60 L161.00,271.80 L161.00,281.80 L157.30,284.90 L152.30,284.30 L149.80,286.80 L141.00,290.50 L133.50,294.30 L128.50,296.80 L121.00,297.40 L113.50,294.90 L107.30,293.00 L108.50,289.30 L113.50,284.30 L117.30,276.80 L123.50,273.00 L128.50,266.80 L134.80,263.00 L137.30,255.50 L141.00,250.50Z" fill="#cccccc"/><path d="M86.00,310.50 L89.80,304.90 L96.00,304.30 L101.00,309.30 L102.30,314.30 L104.80,310.50 L102.30,301.80 L109.80,299.30 L113.50,303.00 L117.30,296.80 L123.50,298.00 L128.50,300.50 L129.80,305.50 L138.50,301.80 L143.50,299.30 L148.50,303.00 L147.30,310.50 L143.50,315.50 L144.80,323.00 L156.00,324.30 L151.00,333.00 L146.00,336.80 L141.00,335.50 L136.00,339.30 L133.50,348.00 L124.80,350.50 L118.50,353.00 L126.00,356.80 L126.00,360.50 L114.80,365.50 L108.50,369.30 L106.00,360.50 L101.00,368.00 L97.30,375.50 L88.50,385.50 L79.75,390.50 L76.00,385.50 L71.50,380.50 L68.50,375.50 L61.50,367.50 L59.50,353.50 L51.50,347.50 L45.50,340.50 L48.00,336.00 L57.50,328.50 L66.00,323.00 L73.50,319.50 L81.50,321.50 L85.50,315.00Z" fill="#cccccc"/><path d="M49.75,410.50 L55.00,403.00 L61.00,398.50 L66.00,399.50 L62.00,404.00 L55.00,410.00 L51.00,412.00Z" fill="#cccccc"/><path d="M67.25,402.00 L72.00,397.00 L80.00,397.50 L87.25,402.00 L82.00,406.50 L72.00,406.00Z" fill="#cccccc"/><path d="M159.00,113.00 L162.00,112.50 L162.50,118.00 L160.00,124.00 L158.50,124.00Z" fill="#cccccc"/><path d="M101.00,196.00 L105.00,193.00 L109.80,195.50 L108.00,199.30 L103.00,199.30Z" fill="#cccccc"/><path d="M146.00,227.00 L150.00,224.30 L154.00,226.00 L152.00,230.00 L147.00,230.50Z" fill="#cccccc"/><path d="M156.50,226.00 L159.80,226.50 L159.00,230.00 L156.50,229.50Z" fill="#cccccc"/><g stroke="#000" stroke-opacity="0.3" stroke-width="0.9" fill="none"><line x1="19.25" y1="0" x2="-0.5" y2="440.5"/><line x1="88" y1="0" x2="81.5" y2="440.5"/><line x1="157.25" y1="0" x2="163.5" y2="440.5"/><line x1="226" y1="0" x2="245.5" y2="440.5"/><path d="M0,0.5 Q160,8.62 287.0,-0.75" fill="none"/><path d="M0,74.25 Q160,82.12 287.0,70.5" fill="none"/><path d="M0,146.75 Q160,153.75 287.0,144.75" fill="none"/><path d="M0,220.5 Q160,227.00 287.0,217.5" fill="none"/><path d="M0,294.25 Q160,300.75 287.0,291.25" fill="none"/><path d="M0,366.75 Q160,372.62 287.0,365" fill="none"/></g></g><rect x="0" y="0" width="287.0" height="440.5" fill="none" stroke="#000" stroke-width="1.1"/></g><g transform="translate(52.5,633.3)"><g clip-path="url(#clip)"><rect x="0" y="0" width="287.0" height="440.5" fill="#fff"/><g clip-path="url(#dom)"><rect x="-10" y="-10" width="307.0" height="460.5" fill="#7ecaa3"/><path d="M130.00,130.00 L150.00,100.00 L185.00,70.00 L215.00,50.00 L250.00,35.00 L265.00,82.00 L230.00,80.00 L195.00,92.00 L185.00,120.00 L178.00,160.00 L170.00,190.00 L120.00,190.00Z" fill="#d6eeb4" fill-opacity="1.0" filter="url(#b3)"/><path d="M172.00,100.00 L188.00,80.00 L210.00,64.00 L232.00,55.00 L212.00,72.00 L192.00,92.00 L182.00,125.00 L172.00,150.00Z" fill="#7ecaa3" fill-opacity="1.0" filter="url(#b3)"/><path d="M150.00,150.00 L165.00,120.00 L178.00,95.00 L172.00,140.00 L162.00,170.00 L150.00,185.00 L140.00,180.00Z" fill="#5fb5a2" fill-opacity="1.0" filter="url(#b3)"/><path d="M214,64 L205,70 L185,82 L176,92 L168,115 L158,145 L148,175 L140,195" fill="none" stroke="#363b72" stroke-width="2.6" filter="url(#b1)"/><path d="M163.00,166.00 L172.00,173.00 L180.00,176.00 L188.00,171.00 L194.00,166.00 L190.00,174.00 L178.00,185.00 L166.00,189.00 L161.00,190.00Z" fill="#d9efb5" fill-opacity="1.0" filter="url(#b2)"/><path d="M160.00,195.00 L205.00,196.00 L205.00,212.00 L165.00,215.00Z" fill="#40508a" fill-opacity="1.0" filter="url(#b3)"/><path d="M95.00,186.00 L135.00,175.00 L140.00,215.00 L125.00,240.00 L100.00,235.00Z" fill="#5aaea2" fill-opacity="1.0" filter="url(#b5)"/><path d="M80.00,200.00 L90.00,188.00 L98.00,182.00 L95.00,210.00 L90.00,222.00 L80.00,215.00Z" fill="#c2e6ab" fill-opacity="1.0" filter="url(#b3)"/><path d="M116.20,203.30 L130.70,188.80 L152.50,192.40 L170.70,210.60 L170.70,236.00 L159.80,250.50 L138.00,250.50 L119.80,232.40Z" fill="#2c2040" fill-opacity="1.0" filter="url(#b4)"/><path d="M135.00,205.00 L152.00,198.00 L166.00,215.00 L166.00,240.00 L150.00,246.00 L134.00,230.00Z" fill="#261a2c" fill-opacity="1.0" filter="url(#b3)"/><path d="M83.00,247.00 L138.00,240.00 L135.00,270.00 L100.00,301.00 L78.00,300.00Z" fill="#4b84a0" fill-opacity="1.0" filter="url(#b5)"/><path d="M128.00,248.00 L138.00,246.00 L95.00,298.00 L88.00,295.00Z" fill="#41538c" fill-opacity="1.0" filter="url(#b3)"/><path d="M62.00,288.00 L80.00,272.00 L86.00,276.00 L68.00,296.00Z" fill="#2c2a4c" fill-opacity="1.0" filter="url(#b2)"/><path d="M160.00,205.00 L215.00,195.00 L218.00,250.00 L165.00,255.00Z" fill="#8fd3a5" fill-opacity="1.0" filter="url(#b5)"/><path d="M135.00,279.50 L180.00,261.50 L220.70,261.50 L220.70,324.70 L198.00,358.50 L157.50,358.50 L135.00,338.20Z" fill="#5080a0" fill-opacity="1.0" filter="url(#b6)"/><path d="M211,220.5 L217.25,245.5 L220.5,270.5 L221,295.5 L218.5,315.5 L211,335.5 L198.5,355.5 L181,370.5 L158.5,383" fill="none" stroke="#8ed2a5" stroke-width="9" filter="url(#b3)"/><ellipse cx="209.4" cy="270.5" rx="9" ry="8" fill="#3e4a88" fill-opacity="1.0" transform="rotate(0 209.4 270.5)" filter="url(#b3)"/><ellipse cx="186" cy="309" rx="15" ry="12" fill="#404a8a" fill-opacity="0.95" transform="rotate(-30 186 309)" filter="url(#b4)"/><path d="M150.00,330.00 L165.00,320.00 L185.00,345.00 L170.00,355.00Z" fill="#45558f" fill-opacity="1.0" filter="url(#b3)"/><path d="M146.00,279.00 L155.00,276.00 L171.00,347.00 L160.00,350.00Z" fill="#3f4a85" fill-opacity="1.0" filter="url(#b3)"/><path d="M0.00,338.00 L35.00,312.00 L65.00,318.00 L55.00,375.00 L20.00,365.00Z" fill="#8ed2a5" fill-opacity="1.0" filter="url(#b6)"/><ellipse cx="30" cy="345" rx="10" ry="8" fill="#b0dea8" fill-opacity="0.8" transform="rotate(-30 30 345)" filter="url(#b5)"/><path d="M90.00,365.00 L180.00,345.00 L200.00,362.00 L150.00,390.00 L95.00,396.00Z" fill="#80cba3" fill-opacity="1.0" filter="url(#b5)"/></g><path d="M-1.00,-1.00 L288.00,-1.00 L288.00,147.20 L282.50,150.50 L274.20,149.70 L265.80,146.30 L260.80,145.50 L259.20,154.70 L256.00,146.50 L253.00,139.50 L254.20,146.30 L249.20,153.80 L250.80,167.20 L247.50,164.70 L242.50,154.70 L241.70,170.50 L234.20,164.70 L232.50,174.70 L225.80,180.50 L222.50,188.00 L219.20,178.80 L211.70,182.20 L207.50,192.20 L202.50,198.00 L198.50,205.50 L193.50,203.00 L183.50,205.50 L173.50,209.30 L164.80,208.00 L161.00,201.80 L160.50,197.50 L165.50,189.50 L177.50,185.50 L191.50,173.50 L194.50,165.50 L187.50,170.50 L179.50,175.50 L169.50,172.50 L163.50,164.30 L167.30,153.00 L171.00,144.30 L178.50,136.80 L181.00,125.50 L183.50,113.00 L179.80,100.50 L181.00,94.30 L193.50,84.30 L203.50,78.00 L213.50,73.00 L221.00,76.80 L241.00,76.80 L253.50,79.30 L262.30,80.50 L256.00,78.00 L243.50,75.50 L233.50,70.50 L223.50,63.00 L231.00,58.00 L236.00,49.30 L241.00,43.00 L249.80,37.40 L242.30,38.00 L236.00,41.80 L231.00,50.50 L226.00,55.50 L218.50,56.10 L211.00,56.80 L206.00,54.90 L202.30,58.00 L193.50,61.80 L186.00,70.50 L177.30,75.50 L171.00,79.30 L166.00,88.00 L167.30,95.50 L159.80,98.00 L156.00,103.00 L151.00,108.00 L147.30,113.00 L148.50,121.80 L144.80,128.00 L139.80,133.00 L129.80,133.00 L123.50,129.30 L132.30,134.30 L137.30,138.00 L138.50,143.00 L136.00,149.30 L132.30,155.50 L126.00,159.30 L116.00,160.50 L122.30,161.80 L121.00,168.00 L114.80,174.30 L108.50,176.80 L107.30,170.50 L102.30,174.30 L98.50,180.50 L92.30,188.00 L84.80,194.30 L81.00,200.50 L78.50,210.50 L84.80,215.50 L97.30,219.30 L104.80,223.00 L109.80,228.00 L112.30,233.00 L107.30,238.00 L106.00,243.00 L98.50,249.30 L91.00,253.00 L84.80,260.50 L83.50,267.50 L78.50,274.50 L75.50,281.50 L71.50,287.50 L61.50,291.50 L53.50,294.50 L44.50,295.00 L42.50,297.50 L39.50,304.50 L33.50,308.50 L31.50,314.50 L22.50,313.50 L21.50,317.50 L16.50,321.50 L13.50,326.50 L4.50,328.50 L3.50,334.50 L-1.00,335.50 L-1.00,335.50Z" fill="#cccccc"/><path d="M146.00,249.90 L147.30,255.50 L143.50,260.50 L142.30,264.30 L147.30,266.10 L152.30,266.80 L157.30,268.60 L161.00,271.80 L161.00,281.80 L157.30,284.90 L152.30,284.30 L149.80,286.80 L141.00,290.50 L133.50,294.30 L128.50,296.80 L121.00,297.40 L113.50,294.90 L107.30,293.00 L108.50,289.30 L113.50,284.30 L117.30,276.80 L123.50,273.00 L128.50,266.80 L134.80,263.00 L137.30,255.50 L141.00,250.50Z" fill="#cccccc"/><path d="M86.00,310.50 L89.80,304.90 L96.00,304.30 L101.00,309.30 L102.30,314.30 L104.80,310.50 L102.30,301.80 L109.80,299.30 L113.50,303.00 L117.30,296.80 L123.50,298.00 L128.50,300.50 L129.80,305.50 L138.50,301.80 L143.50,299.30 L148.50,303.00 L147.30,310.50 L143.50,315.50 L144.80,323.00 L156.00,324.30 L151.00,333.00 L146.00,336.80 L141.00,335.50 L136.00,339.30 L133.50,348.00 L124.80,350.50 L118.50,353.00 L126.00,356.80 L126.00,360.50 L114.80,365.50 L108.50,369.30 L106.00,360.50 L101.00,368.00 L97.30,375.50 L88.50,385.50 L79.75,390.50 L76.00,385.50 L71.50,380.50 L68.50,375.50 L61.50,367.50 L59.50,353.50 L51.50,347.50 L45.50,340.50 L48.00,336.00 L57.50,328.50 L66.00,323.00 L73.50,319.50 L81.50,321.50 L85.50,315.00Z" fill="#cccccc"/><path d="M49.75,410.50 L55.00,403.00 L61.00,398.50 L66.00,399.50 L62.00,404.00 L55.00,410.00 L51.00,412.00Z" fill="#cccccc"/><path d="M67.25,402.00 L72.00,397.00 L80.00,397.50 L87.25,402.00 L82.00,406.50 L72.00,406.00Z" fill="#cccccc"/><path d="M159.00,113.00 L162.00,112.50 L162.50,118.00 L160.00,124.00 L158.50,124.00Z" fill="#cccccc"/><path d="M101.00,196.00 L105.00,193.00 L109.80,195.50 L108.00,199.30 L103.00,199.30Z" fill="#cccccc"/><path d="M146.00,227.00 L150.00,224.30 L154.00,226.00 L152.00,230.00 L147.00,230.50Z" fill="#cccccc"/><path d="M156.50,226.00 L159.80,226.50 L159.00,230.00 L156.50,229.50Z" fill="#cccccc"/><g stroke="#000" stroke-opacity="0.3" stroke-width="0.9" fill="none"><line x1="19.25" y1="0" x2="-0.5" y2="440.5"/><line x1="88" y1="0" x2="81.5" y2="440.5"/><line x1="157.25" y1="0" x2="163.5" y2="440.5"/><line x1="226" y1="0" x2="245.5" y2="440.5"/><path d="M0,0.5 Q160,8.62 287.0,-0.75" fill="none"/><path d="M0,74.25 Q160,82.12 287.0,70.5" fill="none"/><path d="M0,146.75 Q160,153.75 287.0,144.75" fill="none"/><path d="M0,220.5 Q160,227.00 287.0,217.5" fill="none"/><path d="M0,294.25 Q160,300.75 287.0,291.25" fill="none"/><path d="M0,366.75 Q160,372.62 287.0,365" fill="none"/></g></g><rect x="0" y="0" width="287.0" height="440.5" fill="none" stroke="#000" stroke-width="1.1"/></g><g transform="translate(446.5,633.3)"><g clip-path="url(#clip)"><rect x="-10" y="-10" width="307.0" height="460.5" fill="#e2f2b8"/><path d="M165.00,95.00 L185.00,70.00 L215.00,50.00 L250.00,35.00 L265.00,82.00 L230.00,80.00 L195.00,92.00 L180.00,120.00 L170.00,150.00Z" fill="#b8e1a9" fill-opacity="1.0" filter="url(#b4)"/><path d="M172.00,100.00 L188.00,80.00 L210.00,64.00 L232.00,55.00 L210.00,72.00 L192.00,90.00 L180.00,125.00 L172.00,150.00Z" fill="#86cda4" fill-opacity="1.0" filter="url(#b2)"/><path d="M160.00,145.00 L287.00,140.00 L287.00,300.00 L160.00,290.00Z" fill="#d5eeb3" fill-opacity="1.0" filter="url(#b10)"/><path d="M55,360 Q66,378 72,386 T100,413" fill="none" stroke="#88cda4" stroke-width="9" stroke-opacity="0.8" filter="url(#b4)"/><path d="M70,387 C55,386 40,392 32,405 C26,418 28,428 40,433 C50,435 58,428 55,420" fill="none" stroke="#6cbfa3" stroke-width="11" stroke-opacity="0.8" filter="url(#b4)"/><ellipse cx="42" cy="418" rx="9" ry="11" fill="#64baa2" fill-opacity="0.7" transform="rotate(20 42 418)" filter="url(#b4)"/><path d="M-1.00,-1.00 L288.00,-1.00 L288.00,147.20 L282.50,150.50 L274.20,149.70 L265.80,146.30 L260.80,145.50 L259.20,154.70 L256.00,146.50 L253.00,139.50 L254.20,146.30 L249.20,153.80 L250.80,167.20 L247.50,164.70 L242.50,154.70 L241.70,170.50 L234.20,164.70 L232.50,174.70 L225.80,180.50 L222.50,188.00 L219.20,178.80 L211.70,182.20 L207.50,192.20 L202.50,198.00 L198.50,205.50 L193.50,203.00 L183.50,205.50 L173.50,209.30 L164.80,208.00 L161.00,201.80 L160.50,197.50 L165.50,189.50 L177.50,185.50 L191.50,173.50 L194.50,165.50 L187.50,170.50 L179.50,175.50 L169.50,172.50 L163.50,164.30 L167.30,153.00 L171.00,144.30 L178.50,136.80 L181.00,125.50 L183.50,113.00 L179.80,100.50 L181.00,94.30 L193.50,84.30 L203.50,78.00 L213.50,73.00 L221.00,76.80 L241.00,76.80 L253.50,79.30 L262.30,80.50 L256.00,78.00 L243.50,75.50 L233.50,70.50 L223.50,63.00 L231.00,58.00 L236.00,49.30 L241.00,43.00 L249.80,37.40 L242.30,38.00 L236.00,41.80 L231.00,50.50 L226.00,55.50 L218.50,56.10 L211.00,56.80 L206.00,54.90 L202.30,58.00 L193.50,61.80 L186.00,70.50 L177.30,75.50 L171.00,79.30 L166.00,88.00 L167.30,95.50 L159.80,98.00 L156.00,103.00 L151.00,108.00 L147.30,113.00 L148.50,121.80 L144.80,128.00 L139.80,133.00 L129.80,133.00 L123.50,129.30 L132.30,134.30 L137.30,138.00 L138.50,143.00 L136.00,149.30 L132.30,155.50 L126.00,159.30 L116.00,160.50 L122.30,161.80 L121.00,168.00 L114.80,174.30 L108.50,176.80 L107.30,170.50 L102.30,174.30 L98.50,180.50 L92.30,188.00 L84.80,194.30 L81.00,200.50 L78.50,210.50 L84.80,215.50 L97.30,219.30 L104.80,223.00 L109.80,228.00 L112.30,233.00 L107.30,238.00 L106.00,243.00 L98.50,249.30 L91.00,253.00 L84.80,260.50 L83.50,267.50 L78.50,274.50 L75.50,281.50 L71.50,287.50 L61.50,291.50 L53.50,294.50 L44.50,295.00 L42.50,297.50 L39.50,304.50 L33.50,308.50 L31.50,314.50 L22.50,313.50 L21.50,317.50 L16.50,321.50 L13.50,326.50 L4.50,328.50 L3.50,334.50 L-1.00,335.50 L-1.00,335.50Z" fill="#cccccc"/><path d="M146.00,249.90 L147.30,255.50 L143.50,260.50 L142.30,264.30 L147.30,266.10 L152.30,266.80 L157.30,268.60 L161.00,271.80 L161.00,281.80 L157.30,284.90 L152.30,284.30 L149.80,286.80 L141.00,290.50 L133.50,294.30 L128.50,296.80 L121.00,297.40 L113.50,294.90 L107.30,293.00 L108.50,289.30 L113.50,284.30 L117.30,276.80 L123.50,273.00 L128.50,266.80 L134.80,263.00 L137.30,255.50 L141.00,250.50Z" fill="#cccccc"/><path d="M86.00,310.50 L89.80,304.90 L96.00,304.30 L101.00,309.30 L102.30,314.30 L104.80,310.50 L102.30,301.80 L109.80,299.30 L113.50,303.00 L117.30,296.80 L123.50,298.00 L128.50,300.50 L129.80,305.50 L138.50,301.80 L143.50,299.30 L148.50,303.00 L147.30,310.50 L143.50,315.50 L144.80,323.00 L156.00,324.30 L151.00,333.00 L146.00,336.80 L141.00,335.50 L136.00,339.30 L133.50,348.00 L124.80,350.50 L118.50,353.00 L126.00,356.80 L126.00,360.50 L114.80,365.50 L108.50,369.30 L106.00,360.50 L101.00,368.00 L97.30,375.50 L88.50,385.50 L79.75,390.50 L76.00,385.50 L71.50,380.50 L68.50,375.50 L61.50,367.50 L59.50,353.50 L51.50,347.50 L45.50,340.50 L48.00,336.00 L57.50,328.50 L66.00,323.00 L73.50,319.50 L81.50,321.50 L85.50,315.00Z" fill="#cccccc"/><path d="M49.75,410.50 L55.00,403.00 L61.00,398.50 L66.00,399.50 L62.00,404.00 L55.00,410.00 L51.00,412.00Z" fill="#cccccc"/><path d="M67.25,402.00 L72.00,397.00 L80.00,397.50 L87.25,402.00 L82.00,406.50 L72.00,406.00Z" fill="#cccccc"/><path d="M159.00,113.00 L162.00,112.50 L162.50,118.00 L160.00,124.00 L158.50,124.00Z" fill="#cccccc"/><path d="M101.00,196.00 L105.00,193.00 L109.80,195.50 L108.00,199.30 L103.00,199.30Z" fill="#cccccc"/><path d="M146.00,227.00 L150.00,224.30 L154.00,226.00 L152.00,230.00 L147.00,230.50Z" fill="#cccccc"/><path d="M156.50,226.00 L159.80,226.50 L159.00,230.00 L156.50,229.50Z" fill="#cccccc"/><g stroke="#000" stroke-opacity="0.5" stroke-width="0.9" fill="none"><line x1="19.25" y1="0" x2="-0.5" y2="440.5"/><line x1="88" y1="0" x2="81.5" y2="440.5"/><line x1="157.25" y1="0" x2="163.5" y2="440.5"/><line x1="226" y1="0" x2="245.5" y2="440.5"/><path d="M0,0.5 Q160,8.62 287.0,-0.75" fill="none"/><path d="M0,74.25 Q160,82.12 287.0,70.5" fill="none"/><path d="M0,146.75 Q160,153.75 287.0,144.75" fill="none"/><path d="M0,220.5 Q160,227.00 287.0,217.5" fill="none"/><path d="M0,294.25 Q160,300.75 287.0,291.25" fill="none"/><path d="M0,366.75 Q160,372.62 287.0,365" fill="none"/></g></g><rect x="0" y="0" width="287.0" height="440.5" fill="none" stroke="#000" stroke-width="1.1"/></g><g transform="translate(854.2,633.3)"><g clip-path="url(#clip)"><rect x="0" y="0" width="287.0" height="440.5" fill="#fff"/><g clip-path="url(#dom3)"><rect x="-10" y="-10" width="307.0" height="460.5" fill="#eed8d0"/><path d="M0.00,330.00 L40.00,305.00 L75.00,300.00 L70.00,360.00 L40.00,385.00 L0.00,370.00Z" fill="#eac6ba" fill-opacity="1.0" filter="url(#b6)"/><path d="M170.00,58.00 L232.00,50.00 L240.00,70.00 L200.00,85.00 L180.00,110.00 L175.00,170.00 L160.00,170.00 L165.00,100.00Z" fill="#e2d6d6" fill-opacity="1.0" filter="url(#b3)"/><path d="M62.00,247.00 L125.00,232.00 L140.00,255.00 L100.00,301.00 L55.00,315.00Z" fill="#d48a74" fill-opacity="1.0" filter="url(#b5)"/><path d="M118.00,230.00 L138.00,240.00 L84.00,302.00 L60.00,304.00Z" fill="#c56a50" fill-opacity="1.0" filter="url(#b6)"/><path d="M62.00,290.00 L80.00,274.00 L86.00,278.00 L68.00,298.00Z" fill="#6d1020" fill-opacity="1.0" filter="url(#b2)"/><path d="M78.00,200.00 L95.00,182.00 L115.00,172.00 L112.00,200.00 L108.00,222.00 L95.00,222.00 L80.00,215.00Z" fill="#ecd0c6" fill-opacity="1.0" filter="url(#b4)"/><path d="M105.00,180.00 L135.00,175.00 L138.00,215.00 L120.00,240.00 L105.00,225.00Z" fill="#cf8a76" fill-opacity="1.0" filter="url(#b4)"/><path d="M162.00,130.00 L168.00,132.00 L145.00,200.00 L138.00,198.00Z" fill="#8b1a24" fill-opacity="1.0" filter="url(#b2)"/><path d="M112.00,200.00 L130.00,185.00 L155.00,188.00 L175.00,210.00 L175.00,240.00 L160.00,256.00 L135.00,256.00 L115.00,236.00Z" fill="#a9372d" fill-opacity="1.0" filter="url(#b4)"/><path d="M125.00,205.00 L140.00,192.00 L155.00,195.00 L168.00,215.00 L168.00,240.00 L150.00,250.00 L130.00,236.00Z" fill="#6e0e1e" fill-opacity="1.0" filter="url(#b3)"/><ellipse cx="152" cy="225" rx="9" ry="14" fill="#4a0a18" fill-opacity="0.9" transform="rotate(0 152 225)" filter="url(#b3)"/><path d="M150.00,258.00 L205.00,250.00 L222.00,320.00 L205.00,360.00 L150.00,362.00 L140.00,320.00Z" fill="#dc9a86" fill-opacity="1.0" filter="url(#b6)"/><path d="M160.00,215.00 L218.00,210.00 L218.00,250.00 L160.00,254.00Z" fill="#f1ddd6" fill-opacity="1.0" filter="url(#b5)"/><ellipse cx="209" cy="268.5" rx="10" ry="9" fill="#c45a3c" fill-opacity="1.0" transform="rotate(0 209 268.5)" filter="url(#b4)"/><ellipse cx="184.5" cy="278.7" rx="7" ry="6" fill="#9a2a2c" fill-opacity="1.0" transform="rotate(0 184.5 278.7)" filter="url(#b3)"/><ellipse cx="192.7" cy="311.5" rx="18" ry="13" fill="#bf5238" fill-opacity="1" transform="rotate(-20 192.7 311.5)" filter="url(#b5)"/><ellipse cx="160" cy="344" rx="15" ry="8" fill="#c65e46" fill-opacity="1" transform="rotate(-30 160 344)" filter="url(#b4)"/><ellipse cx="127" cy="371" rx="11" ry="7" fill="#d3806a" fill-opacity="1.0" transform="rotate(0 127 371)" filter="url(#b4)"/><path d="M34,311 L45,304 L55,298 L66,293 L74,288 L80,279 L84,271" fill="none" stroke="#7a1a22" stroke-width="2.5" stroke-opacity="0.7" filter="url(#b1)"/></g><path d="M-1.00,-1.00 L288.00,-1.00 L288.00,147.20 L282.50,150.50 L274.20,149.70 L265.80,146.30 L260.80,145.50 L259.20,154.70 L256.00,146.50 L253.00,139.50 L254.20,146.30 L249.20,153.80 L250.80,167.20 L247.50,164.70 L242.50,154.70 L241.70,170.50 L234.20,164.70 L232.50,174.70 L225.80,180.50 L222.50,188.00 L219.20,178.80 L211.70,182.20 L207.50,192.20 L202.50,198.00 L198.50,205.50 L193.50,203.00 L183.50,205.50 L173.50,209.30 L164.80,208.00 L161.00,201.80 L160.50,197.50 L165.50,189.50 L177.50,185.50 L191.50,173.50 L194.50,165.50 L187.50,170.50 L179.50,175.50 L169.50,172.50 L163.50,164.30 L167.30,153.00 L171.00,144.30 L178.50,136.80 L181.00,125.50 L183.50,113.00 L179.80,100.50 L181.00,94.30 L193.50,84.30 L203.50,78.00 L213.50,73.00 L221.00,76.80 L241.00,76.80 L253.50,79.30 L262.30,80.50 L256.00,78.00 L243.50,75.50 L233.50,70.50 L223.50,63.00 L231.00,58.00 L236.00,49.30 L241.00,43.00 L249.80,37.40 L242.30,38.00 L236.00,41.80 L231.00,50.50 L226.00,55.50 L218.50,56.10 L211.00,56.80 L206.00,54.90 L202.30,58.00 L193.50,61.80 L186.00,70.50 L177.30,75.50 L171.00,79.30 L166.00,88.00 L167.30,95.50 L159.80,98.00 L156.00,103.00 L151.00,108.00 L147.30,113.00 L148.50,121.80 L144.80,128.00 L139.80,133.00 L129.80,133.00 L123.50,129.30 L132.30,134.30 L137.30,138.00 L138.50,143.00 L136.00,149.30 L132.30,155.50 L126.00,159.30 L116.00,160.50 L122.30,161.80 L121.00,168.00 L114.80,174.30 L108.50,176.80 L107.30,170.50 L102.30,174.30 L98.50,180.50 L92.30,188.00 L84.80,194.30 L81.00,200.50 L78.50,210.50 L84.80,215.50 L97.30,219.30 L104.80,223.00 L109.80,228.00 L112.30,233.00 L107.30,238.00 L106.00,243.00 L98.50,249.30 L91.00,253.00 L84.80,260.50 L83.50,267.50 L78.50,274.50 L75.50,281.50 L71.50,287.50 L61.50,291.50 L53.50,294.50 L44.50,295.00 L42.50,297.50 L39.50,304.50 L33.50,308.50 L31.50,314.50 L22.50,313.50 L21.50,317.50 L16.50,321.50 L13.50,326.50 L4.50,328.50 L3.50,334.50 L-1.00,335.50 L-1.00,335.50Z" fill="#cccccc"/><path d="M146.00,249.90 L147.30,255.50 L143.50,260.50 L142.30,264.30 L147.30,266.10 L152.30,266.80 L157.30,268.60 L161.00,271.80 L161.00,281.80 L157.30,284.90 L152.30,284.30 L149.80,286.80 L141.00,290.50 L133.50,294.30 L128.50,296.80 L121.00,297.40 L113.50,294.90 L107.30,293.00 L108.50,289.30 L113.50,284.30 L117.30,276.80 L123.50,273.00 L128.50,266.80 L134.80,263.00 L137.30,255.50 L141.00,250.50Z" fill="#cccccc"/><path d="M86.00,310.50 L89.80,304.90 L96.00,304.30 L101.00,309.30 L102.30,314.30 L104.80,310.50 L102.30,301.80 L109.80,299.30 L113.50,303.00 L117.30,296.80 L123.50,298.00 L128.50,300.50 L129.80,305.50 L138.50,301.80 L143.50,299.30 L148.50,303.00 L147.30,310.50 L143.50,315.50 L144.80,323.00 L156.00,324.30 L151.00,333.00 L146.00,336.80 L141.00,335.50 L136.00,339.30 L133.50,348.00 L124.80,350.50 L118.50,353.00 L126.00,356.80 L126.00,360.50 L114.80,365.50 L108.50,369.30 L106.00,360.50 L101.00,368.00 L97.30,375.50 L88.50,385.50 L79.75,390.50 L76.00,385.50 L71.50,380.50 L68.50,375.50 L61.50,367.50 L59.50,353.50 L51.50,347.50 L45.50,340.50 L48.00,336.00 L57.50,328.50 L66.00,323.00 L73.50,319.50 L81.50,321.50 L85.50,315.00Z" fill="#cccccc"/><path d="M49.75,410.50 L55.00,403.00 L61.00,398.50 L66.00,399.50 L62.00,404.00 L55.00,410.00 L51.00,412.00Z" fill="#cccccc"/><path d="M67.25,402.00 L72.00,397.00 L80.00,397.50 L87.25,402.00 L82.00,406.50 L72.00,406.00Z" fill="#cccccc"/><path d="M159.00,113.00 L162.00,112.50 L162.50,118.00 L160.00,124.00 L158.50,124.00Z" fill="#cccccc"/><path d="M101.00,196.00 L105.00,193.00 L109.80,195.50 L108.00,199.30 L103.00,199.30Z" fill="#cccccc"/><path d="M146.00,227.00 L150.00,224.30 L154.00,226.00 L152.00,230.00 L147.00,230.50Z" fill="#cccccc"/><path d="M156.50,226.00 L159.80,226.50 L159.00,230.00 L156.50,229.50Z" fill="#cccccc"/><g stroke="#000" stroke-opacity="0.3" stroke-width="0.9" fill="none"><line x1="19.25" y1="0" x2="-0.5" y2="440.5"/><line x1="88" y1="0" x2="81.5" y2="440.5"/><line x1="157.25" y1="0" x2="163.5" y2="440.5"/><line x1="226" y1="0" x2="245.5" y2="440.5"/><path d="M0,0.5 Q160,8.62 287.0,-0.75" fill="none"/><path d="M0,74.25 Q160,82.12 287.0,70.5" fill="none"/><path d="M0,146.75 Q160,153.75 287.0,144.75" fill="none"/><path d="M0,220.5 Q160,227.00 287.0,217.5" fill="none"/><path d="M0,294.25 Q160,300.75 287.0,291.25" fill="none"/><path d="M0,366.75 Q160,372.62 287.0,365" fill="none"/></g></g><rect x="0" y="0" width="287.0" height="440.5" fill="none" stroke="#000" stroke-width="1.1"/></g><rect x="159.3" y="531.3" width="467.20" height="22.90" fill="url(#gdeep)" stroke="#000" stroke-width="1.1"/><line x1="159.30" y1="554.2" x2="159.30" y2="559.00" stroke="#000" stroke-width="1.1"/><line x1="237.17" y1="554.2" x2="237.17" y2="559.00" stroke="#000" stroke-width="1.1"/><line x1="315.03" y1="554.2" x2="315.03" y2="559.00" stroke="#000" stroke-width="1.1"/><line x1="392.90" y1="554.2" x2="392.90" y2="559.00" stroke="#000" stroke-width="1.1"/><line x1="470.77" y1="554.2" x2="470.77" y2="559.00" stroke="#000" stroke-width="1.1"/><line x1="548.63" y1="554.2" x2="548.63" y2="559.00" stroke="#000" stroke-width="1.1"/><line x1="626.50" y1="554.2" x2="626.50" y2="559.00" stroke="#000" stroke-width="1.1"/><g font-family="Liberation Sans, sans-serif" fill="#000" stroke="#000" stroke-width="0.12"><text x="155.35" y="575.60" font-size="13.6" textLength="7.90" lengthAdjust="spacingAndGlyphs">0</text><text x="229.27" y="575.60" font-size="13.6" textLength="15.80" lengthAdjust="spacingAndGlyphs">10</text><text x="307.13" y="575.60" font-size="13.6" textLength="15.80" lengthAdjust="spacingAndGlyphs">20</text><text x="385.00" y="575.60" font-size="13.6" textLength="15.80" lengthAdjust="spacingAndGlyphs">30</text><text x="462.87" y="575.60" font-size="13.6" textLength="15.80" lengthAdjust="spacingAndGlyphs">40</text><text x="540.73" y="575.60" font-size="13.6" textLength="15.80" lengthAdjust="spacingAndGlyphs">50</text><text x="618.60" y="575.60" font-size="13.6" textLength="15.80" lengthAdjust="spacingAndGlyphs">60</text><text x="313.60" y="594.80" font-size="13.6" textLength="158.70" lengthAdjust="spacingAndGlyphs">Mixed Layer Depth (m)</text></g><path d="M805.0,530.7 L1172.3,530.7 L1190.4,540.45 L1172.3,550.2 L805.0,550.2 Z" fill="url(#gbal)" stroke="#000" stroke-width="1.1"/><line x1="805.00" y1="550.2" x2="805.00" y2="555.00" stroke="#000" stroke-width="1.1"/><line x1="866.22" y1="550.2" x2="866.22" y2="555.00" stroke="#000" stroke-width="1.1"/><line x1="927.43" y1="550.2" x2="927.43" y2="555.00" stroke="#000" stroke-width="1.1"/><line x1="988.65" y1="550.2" x2="988.65" y2="555.00" stroke="#000" stroke-width="1.1"/><line x1="1049.87" y1="550.2" x2="1049.87" y2="555.00" stroke="#000" stroke-width="1.1"/><line x1="1111.08" y1="550.2" x2="1111.08" y2="555.00" stroke="#000" stroke-width="1.1"/><line x1="1172.30" y1="550.2" x2="1172.30" y2="555.00" stroke="#000" stroke-width="1.1"/><g font-family="Liberation Sans, sans-serif" fill="#000" stroke="#000" stroke-width="0.12"><text x="791.60" y="571.80" font-size="13.6" textLength="26.80" lengthAdjust="spacingAndGlyphs">−60</text><text x="852.82" y="571.80" font-size="13.6" textLength="26.80" lengthAdjust="spacingAndGlyphs">−40</text><text x="914.03" y="571.80" font-size="13.6" textLength="26.80" lengthAdjust="spacingAndGlyphs">−20</text><text x="984.70" y="571.80" font-size="13.6" textLength="7.90" lengthAdjust="spacingAndGlyphs">0</text><text x="1041.97" y="571.80" font-size="13.6" textLength="15.80" lengthAdjust="spacingAndGlyphs">20</text><text x="1103.18" y="571.80" font-size="13.6" textLength="15.80" lengthAdjust="spacingAndGlyphs">40</text><text x="1164.40" y="571.80" font-size="13.6" textLength="15.80" lengthAdjust="spacingAndGlyphs">60</text><text x="908.50" y="590.80" font-size="13.6" textLength="161.00" lengthAdjust="spacingAndGlyphs">Mixed Layer Depth (m)</text></g><rect x="159.3" y="1120.8" width="467.20" height="24.30" fill="url(#gdeep)" stroke="#000" stroke-width="1.1"/><line x1="159.30" y1="1145.1" x2="159.30" y2="1149.90" stroke="#000" stroke-width="1.1"/><line x1="214.30" y1="1145.1" x2="214.30" y2="1149.90" stroke="#000" stroke-width="1.1"/><line x1="269.29" y1="1145.1" x2="269.29" y2="1149.90" stroke="#000" stroke-width="1.1"/><line x1="324.29" y1="1145.1" x2="324.29" y2="1149.90" stroke="#000" stroke-width="1.1"/><line x1="379.29" y1="1145.1" x2="379.29" y2="1149.90" stroke="#000" stroke-width="1.1"/><line x1="434.29" y1="1145.1" x2="434.29" y2="1149.90" stroke="#000" stroke-width="1.1"/><line x1="489.28" y1="1145.1" x2="489.28" y2="1149.90" stroke="#000" stroke-width="1.1"/><line x1="544.28" y1="1145.1" x2="544.28" y2="1149.90" stroke="#000" stroke-width="1.1"/><line x1="599.28" y1="1145.1" x2="599.28" y2="1149.90" stroke="#000" stroke-width="1.1"/><g font-family="Liberation Sans, sans-serif" fill="#000" stroke="#000" stroke-width="0.12"><text x="155.35" y="1165.80" font-size="13.6" textLength="7.90" lengthAdjust="spacingAndGlyphs">0</text><text x="206.40" y="1165.80" font-size="13.6" textLength="15.80" lengthAdjust="spacingAndGlyphs">20</text><text x="261.39" y="1165.80" font-size="13.6" textLength="15.80" lengthAdjust="spacingAndGlyphs">40</text><text x="316.39" y="1165.80" font-size="13.6" textLength="15.80" lengthAdjust="spacingAndGlyphs">60</text><text x="371.39" y="1165.80" font-size="13.6" textLength="15.80" lengthAdjust="spacingAndGlyphs">80</text><text x="422.44" y="1165.80" font-size="13.6" textLength="23.70" lengthAdjust="spacingAndGlyphs">100</text><text x="477.43" y="1165.80" font-size="13.6" textLength="23.70" lengthAdjust="spacingAndGlyphs">120</text><text x="532.43" y="1165.80" font-size="13.6" textLength="23.70" lengthAdjust="spacingAndGlyphs">140</text><text x="587.43" y="1165.80" font-size="13.6" textLength="23.70" lengthAdjust="spacingAndGlyphs">160</text><text x="325.30" y="1185.50" font-size="13.6" textLength="130.20" lengthAdjust="spacingAndGlyphs">Mixed Layer Depth</text><text x="313.70" y="1201.70" font-size="13.6" textLength="162.10" lengthAdjust="spacingAndGlyphs">Standard Deviation (m)</text></g><path d="M805.0,1120.8 L1172.3,1120.8 L1190.4,1130.60 L1172.3,1140.4 L805.0,1140.4 Z" fill="url(#gbal)" stroke="#000" stroke-width="1.1"/><line x1="836.87" y1="1140.4" x2="836.87" y2="1145.20" stroke="#000" stroke-width="1.1"/><line x1="887.47" y1="1140.4" x2="887.47" y2="1145.20" stroke="#000" stroke-width="1.1"/><line x1="938.06" y1="1140.4" x2="938.06" y2="1145.20" stroke="#000" stroke-width="1.1"/><line x1="988.65" y1="1140.4" x2="988.65" y2="1145.20" stroke="#000" stroke-width="1.1"/><line x1="1039.24" y1="1140.4" x2="1039.24" y2="1145.20" stroke="#000" stroke-width="1.1"/><line x1="1089.83" y1="1140.4" x2="1089.83" y2="1145.20" stroke="#000" stroke-width="1.1"/><line x1="1140.43" y1="1140.4" x2="1140.43" y2="1145.20" stroke="#000" stroke-width="1.1"/><g font-family="Liberation Sans, sans-serif" fill="#000" stroke="#000" stroke-width="0.12"><text x="819.52" y="1161.70" font-size="13.6" textLength="34.70" lengthAdjust="spacingAndGlyphs">−150</text><text x="870.12" y="1161.70" font-size="13.6" textLength="34.70" lengthAdjust="spacingAndGlyphs">−100</text><text x="924.66" y="1161.70" font-size="13.6" textLength="26.80" lengthAdjust="spacingAndGlyphs">−50</text><text x="984.70" y="1161.70" font-size="13.6" textLength="7.90" lengthAdjust="spacingAndGlyphs">0</text><text x="1031.34" y="1161.70" font-size="13.6" textLength="15.80" lengthAdjust="spacingAndGlyphs">50</text><text x="1077.98" y="1161.70" font-size="13.6" textLength="23.70" lengthAdjust="spacingAndGlyphs">100</text><text x="1128.58" y="1161.70" font-size="13.6" textLength="23.70" lengthAdjust="spacingAndGlyphs">150</text><text x="921.70" y="1180.80" font-size="13.6" textLength="129.70" lengthAdjust="spacingAndGlyphs">Mixed Layer Depth</text><text x="910.00" y="1197.80" font-size="13.6" textLength="161.90" lengthAdjust="spacingAndGlyphs">Standard Deviation (m)</text></g></svg></body></html>
